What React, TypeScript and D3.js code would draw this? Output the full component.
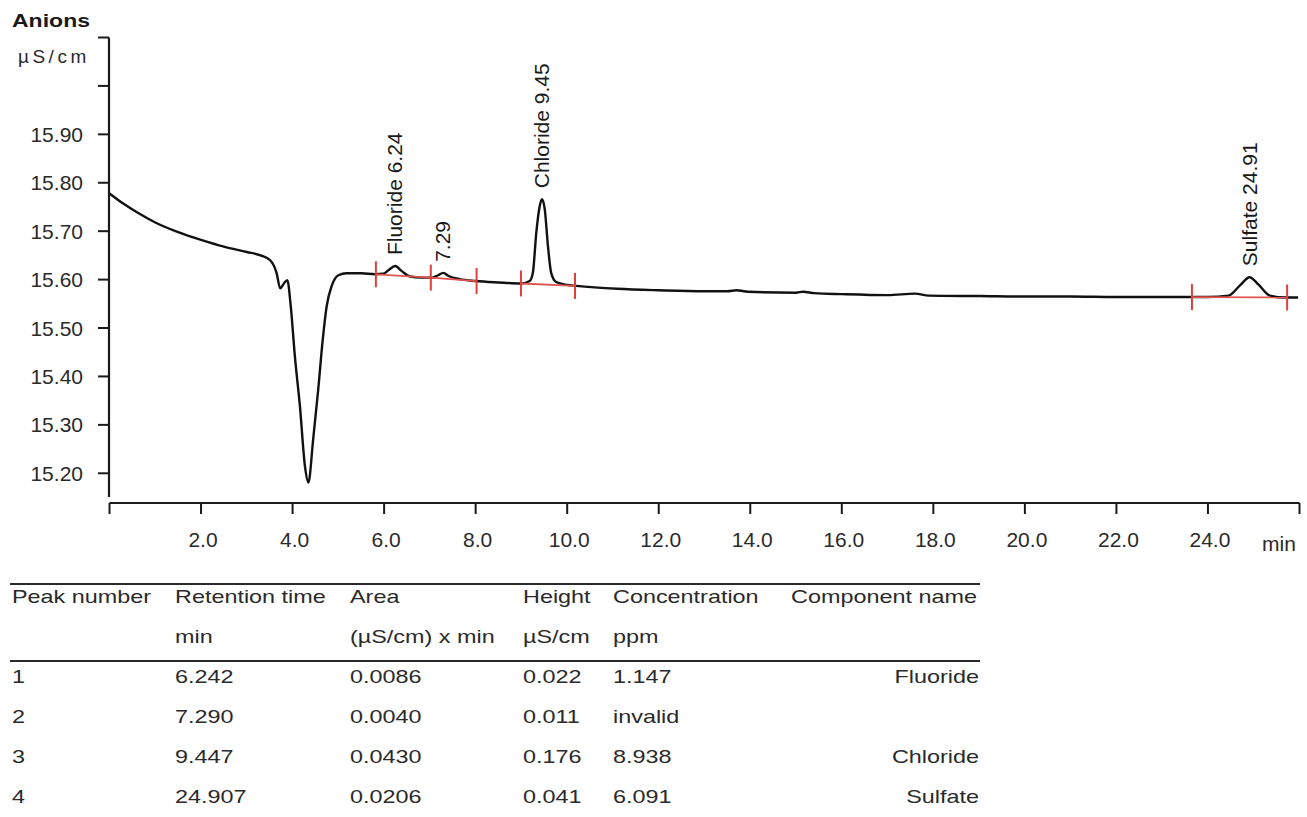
import React, { useEffect } from "react";
import * as d3 from "d3";

// chromatogram trace (time in min, signal in µS/cm)
const traceTimes = [
  0.0, 0.3, 0.6, 1.0, 1.5, 2.0, 2.5, 3.0, 3.3, 3.51, 3.65, 3.73, 3.81, 3.885, 3.96, 4.05, 4.16, 4.27,
  4.345, 4.45, 4.56, 4.66, 4.745, 4.855, 5.0, 5.18, 5.5, 5.8, 5.98, 6.1, 6.24, 6.38, 6.55, 6.8, 7.05,
  7.18, 7.29, 7.42, 7.65, 8.0, 8.5, 9.0, 9.18, 9.25, 9.325, 9.4, 9.45, 9.51, 9.58, 9.65, 9.76, 10.0,
  10.2, 11.1, 12.0, 13.0, 13.5, 13.7, 13.95, 15.0, 15.15, 15.4, 16.0, 17.0, 17.6, 17.9, 19.0, 20.0,
  21.0, 22.0, 23.0, 24.0, 24.45, 24.7, 24.91, 25.1, 25.35, 25.7, 25.97,
];
const traceValues = [
  15.778, 15.757, 15.739, 15.718, 15.698, 15.682, 15.668, 15.657, 15.65, 15.64, 15.614, 15.582, 15.592,
  15.599, 15.545, 15.442, 15.339, 15.215, 15.181, 15.27, 15.373, 15.477, 15.545, 15.587, 15.609, 15.613,
  15.613, 15.611, 15.612, 15.62, 15.628, 15.618, 15.607, 15.604, 15.604, 15.609, 15.614, 15.607, 15.601,
  15.597, 15.594, 15.592, 15.597, 15.614, 15.697, 15.752, 15.766, 15.745, 15.669, 15.614, 15.595, 15.589,
  15.587, 15.581, 15.578, 15.576, 15.576, 15.578, 15.575, 15.573, 15.575, 15.572, 15.57, 15.568, 15.571,
  15.567, 15.566, 15.565, 15.565, 15.564, 15.564, 15.564, 15.567, 15.588, 15.605, 15.59, 15.567, 15.563,
  15.563,
];

// integration marks (red) and the baseline segments between them
const markTimes = [5.82, 7.02, 8.02, 8.99, 10.17, 23.65, 25.73];
const markValues = [15.611, 15.604, 15.597, 15.592, 15.587, 15.564, 15.563];
const markSegments = [[0, 1], [1, 2], [3, 4], [5, 6]];

// peak labels
const peakLabels = ["Fluoride 6.24", "7.29", "Chloride 9.45", "Sulfate 24.91"];
const peakTimes = [6.24, 7.29, 9.45, 24.91];
const peakTops = [15.628, 15.614, 15.766, 15.605];

// axes
const xTicks = [2, 4, 6, 8, 10, 12, 14, 16, 18, 20, 22, 24];
const yTicks = [15.2, 15.3, 15.4, 15.5, 15.6, 15.7, 15.8, 15.9];
const yMinorTicks = [16.0, 16.1];

// peak table
const headers = ["Peak number", "Retention time", "Area", "Height", "Concentration", "Component name"];
const units = ["", "min", "(µS/cm) x min", "µS/cm", "ppm", ""];
const peakNumbers = ["1", "2", "3", "4"];
const retentionTimes = ["6.242", "7.290", "9.447", "24.907"];
const areas = ["0.0086", "0.0040", "0.0430", "0.0206"];
const heights = ["0.022", "0.011", "0.176", "0.041"];
const concentrations = ["1.147", "invalid", "8.938", "6.091"];
const componentNames = ["Fluoride", "", "Chloride", "Sulfate"];

const W = 1307;
const H = 817;
const FONT = "'Liberation Sans', Arial, sans-serif";

// table text in the printout is wider than plain Arial
const WideText = ({ x, y, children, anchor = "start", size = 18, sx = 1.3, weight = "normal", fill = "#2a2a2a" }) => (
  <text
    transform={`translate(${x},${y}) scale(${sx},1)`}
    textAnchor={anchor}
    fontSize={size}
    fontWeight={weight}
    fontFamily={FONT}
    fill={fill}
  >
    {children}
  </text>
);

export default function App() {
  useEffect(() => {
    document.body.style.margin = "0";
    document.body.style.background = "#fff";
  }, []);

  const x = d3.scaleLinear().domain([0, 26]).range([109.5, 1299.5]);
  const y = d3.scaleLinear().domain([15.15, 16.1]).range([497.5, 37.5]);

  const points = traceTimes.map((t, i) => [t, traceValues[i]]);
  const line = d3
    .line()
    .x((d) => x(d[0]))
    .y((d) => y(d[1]))
    .curve(d3.curveMonotoneX);

  const axisX = 109;
  const axisY = 503;

  const colX = [12, 175, 350, 523, 613];
  const rowY = [683, 723, 763, 803];

  return (
    <svg width={W} height={H} style={{ position: "absolute", left: 0, top: 0, background: "#fff" }}>
      {/* titles */}
      <WideText x={12} y={27} size={18} sx={1.28} weight="bold" fill="#1a1a1a">Anions</WideText>
      <text x={18} y={63} fontSize={19} fontFamily={FONT} fill="#2a2a2a" letterSpacing={3.5}>µS/cm</text>

      {/* y axis */}
      <line x1={axisX} x2={axisX} y1={y(16.1)} y2={497} stroke="#1a1a1a" strokeWidth={2.2} />
      {yMinorTicks.concat(yTicks).map((v) => (
        <line key={"yt" + v} x1={axisX - 11} x2={axisX} y1={y(v)} y2={y(v)} stroke="#1a1a1a" strokeWidth={2} />
      ))}
      {yTicks.map((v) => (
        <text key={"yl" + v} x={83} y={y(v) + 7.5} textAnchor="end" fontSize={21} fontFamily={FONT} fill="#2a2a2a">
          {v.toFixed(2)}
        </text>
      ))}

      {/* x axis */}
      <line x1={x(0)} x2={x(26)} y1={axisY} y2={axisY} stroke="#1a1a1a" strokeWidth={2.2} />
      {[0].concat(xTicks, [26]).map((t) => (
        <line key={"xt" + t} x1={x(t)} x2={x(t)} y1={axisY} y2={axisY + 11} stroke="#1a1a1a" strokeWidth={2} />
      ))}
      {xTicks.map((t) => (
        <text key={"xl" + t} x={x(t) + 2} y={547} textAnchor="middle" fontSize={21} fontFamily={FONT} fill="#2a2a2a">
          {t.toFixed(1)}
        </text>
      ))}
      <text x={1262} y={551} fontSize={21} fontFamily={FONT} fill="#2a2a2a">min</text>

      {/* trace */}
      <path d={line(points)} fill="none" stroke="#111" strokeWidth={2.4} strokeLinejoin="round" />

      {/* integration baselines and marks */}
      {markSegments.map(([a, b], i) => (
        <line
          key={"seg" + i}
          x1={x(markTimes[a])}
          x2={x(markTimes[b])}
          y1={y(markValues[a])}
          y2={y(markValues[b])}
          stroke="#e4544e"
          strokeWidth={1.8}
        />
      ))}
      {markTimes.map((t, i) => (
        <line
          key={"mk" + i}
          x1={x(t)}
          x2={x(t)}
          y1={y(markValues[i]) - 13}
          y2={y(markValues[i]) + 13}
          stroke="#e0403a"
          strokeWidth={2}
        />
      ))}

      {/* peak labels */}
      {peakLabels.map((s, i) => (
        <text
          key={"pl" + i}
          transform={`translate(${x(peakTimes[i]) + 7},${y(peakTops[i]) - 11}) rotate(-90)`}
          fontSize={21}
          fontFamily={FONT}
          fill="#1a1a1a"
        >
          {s}
        </text>
      ))}

      {/* table */}
      <line x1={10} x2={980} y1={584} y2={584} stroke="#2a2a2a" strokeWidth={2} />
      <line x1={10} x2={980} y1={661} y2={661} stroke="#2a2a2a" strokeWidth={2} />
      {headers.map((h, i) =>
        i < 5 ? (
          <WideText key={"h" + i} x={colX[i]} y={603}>{h}</WideText>
        ) : (
          <WideText key={"h" + i} x={977} y={603} anchor="end">{h}</WideText>
        )
      )}
      {units.map((u, i) => (u ? <WideText key={"u" + i} x={colX[i]} y={643}>{u}</WideText> : null))}
      {peakNumbers.map((n, r) => (
        <g key={"row" + r}>
          <WideText x={colX[0]} y={rowY[r]}>{n}</WideText>
          <WideText x={colX[1]} y={rowY[r]}>{retentionTimes[r]}</WideText>
          <WideText x={colX[2]} y={rowY[r]}>{areas[r]}</WideText>
          <WideText x={colX[3]} y={rowY[r]}>{heights[r]}</WideText>
          <WideText x={colX[4]} y={rowY[r]}>{concentrations[r]}</WideText>
          <WideText x={979} y={rowY[r]} anchor="end">{componentNames[r]}</WideText>
        </g>
      ))}
    </svg>
  );
}
